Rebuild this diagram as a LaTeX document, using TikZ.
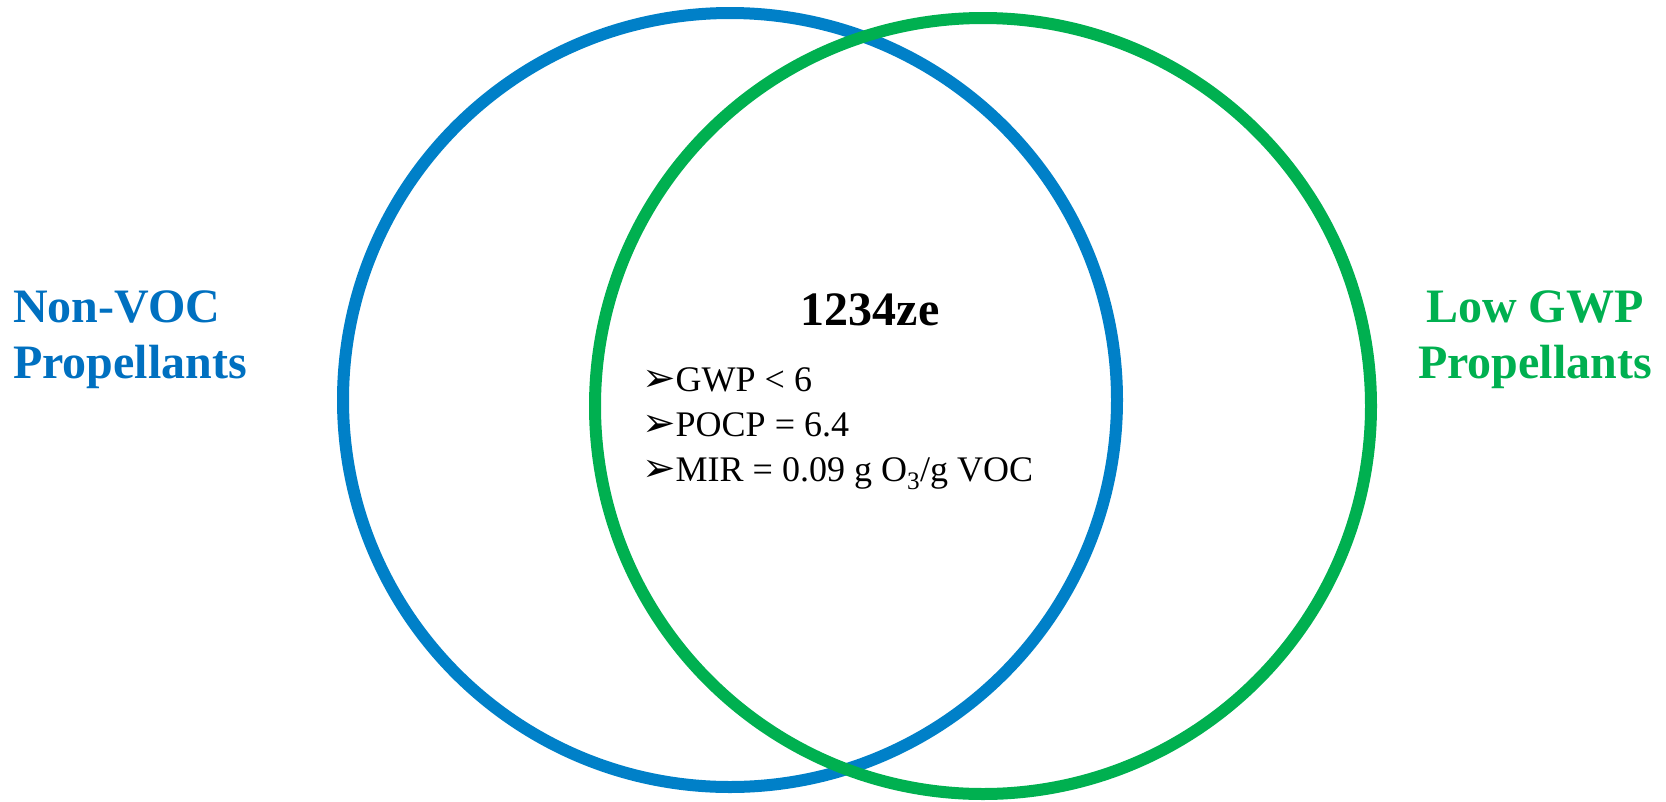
\documentclass[tikz,border=0pt]{standalone}
\usepackage{fontspec}
\setmainfont{Liberation Serif}
\newfontfamily\symfont{DejaVu Sans}
\definecolor{vocblue}{HTML}{0080C8}
\definecolor{voctext}{HTML}{0070C0}
\definecolor{gwpgreen}{HTML}{00B050}
\tikzset{
  ring/.style={line width=12pt},
  headlabel/.style={font=\fontsize{48}{56}\selectfont\bfseries, inner sep=0pt},
  facts/.style={font=\fontsize{36}{45}\selectfont, inner sep=0pt, align=left},
}
\newcommand{\tick}{{\symfont\fontsize{40}{45}\selectfont ➢}}
\begin{document}
\begin{tikzpicture}[x=1pt,y=-1pt]
  \useasboundingbox (0,0) rectangle (1666,801);
  % the two sets
  \draw[ring, vocblue] (730,400) circle[radius=387pt];
  \draw[ring, gwpgreen] (983,406) circle[radius=388pt];
  % set labels (base anchor sits on the last line)
  \node[headlabel, text=voctext, anchor=base west, align=left] (voc) at (13,378)
    {Non-VOC\\Propellants};
  \node[headlabel, text=gwpgreen, anchor=base, align=center] (gwp) at (1535,378)
    {Low GWP\\Propellants};
  % intersection
  \node[headlabel, anchor=base] (ze) at (870,325) {1234ze};
  \node[facts, anchor=base west] (list) at (642,481)
    {\tick GWP < 6\\
     \tick POCP = 6.4\\
     \tick MIR = 0.09 g O\textsubscript{3}/g VOC};
\end{tikzpicture}
\end{document}
